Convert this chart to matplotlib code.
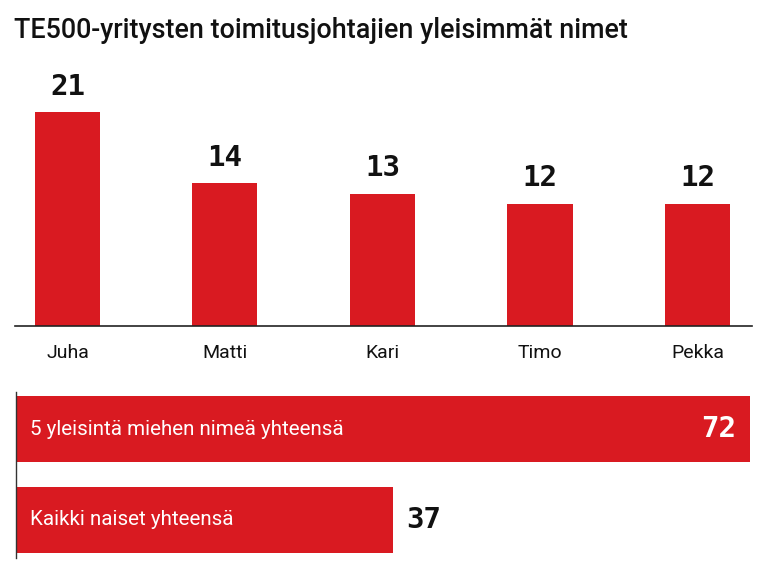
import matplotlib
matplotlib.use("Agg")
import matplotlib.pyplot as plt

names = ["Juha", "Matti", "Kari", "Timo", "Pekka"]
counts = [21, 14, 13, 12, 12]
total_labels = ["5 yleisintä miehen nimeä yhteensä", "Kaikki naiset yhteensä"]
totals = [72, 37]
title = "TE500-yritysten toimitusjohtajien yleisimmät nimet"

RED = "#d91a21"
W, H = 764, 573
fig = plt.figure(figsize=(W / 100, H / 100), dpi=100)

def ax_rect(l, t, r, b):
    return [l / W, 1 - b / H, (r - l) / W, (b - t) / H]

fig.text(14 / W, 1 - 31 / H, title, fontsize=19.4, fontweight="medium",
         family="Roboto", va="center", ha="left", color="#111111")

# Top bar chart
ax = fig.add_axes(ax_rect(15, 60, 752, 326))
x = list(range(len(names)))
ax.bar(x, counts, width=0.413, color=RED)
ax.set_xlim(-0.333, 4.346)
ax.set_ylim(0, 26.1)
for xi, v in zip(x, counts):
    ax.text(xi, v + 1.1, str(v), ha="center", va="bottom", fontsize=21,
            fontweight="bold", family="DejaVu Sans Mono", color="#111111")
for s in ["top", "right", "left"]:
    ax.spines[s].set_visible(False)
ax.spines["bottom"].set_color("#222222")
ax.spines["bottom"].set_linewidth(1.2)
ax.set_yticks([])
ax.set_xticks(x)
ax.set_xticklabels(names, fontsize=14, family="Roboto", color="#111111")
ax.tick_params(axis="x", length=0, pad=13)

# Bottom totals chart
ax2 = fig.add_axes(ax_rect(16, 392, 750, 558))
yy = [0, 1]
ax2.barh(yy, totals, height=0.725, color=RED)
ax2.set_xlim(0, 72)
ax2.set_ylim(1.418, -0.407)
for yi, lab, v in zip(yy, total_labels, totals):
    ax2.text(1.4, yi, lab, ha="left", va="center", fontsize=14.8,
             family="Roboto", color="white")
ax2.text(totals[0] - 1.4, yy[0], str(totals[0]), ha="right", va="center",
         fontsize=21, fontweight="bold", family="DejaVu Sans Mono", color="white")
ax2.text(totals[1] + 1.3, yy[1], str(totals[1]), ha="left", va="center",
         fontsize=21, fontweight="bold", family="DejaVu Sans Mono", color="#111111")
for s in ["top", "right", "bottom"]:
    ax2.spines[s].set_visible(False)
ax2.spines["left"].set_color("#333333")
ax2.spines["left"].set_linewidth(1.0)
ax2.set_xticks([])
ax2.set_yticks([])

fig.savefig("out.png", dpi=100, facecolor="white")
